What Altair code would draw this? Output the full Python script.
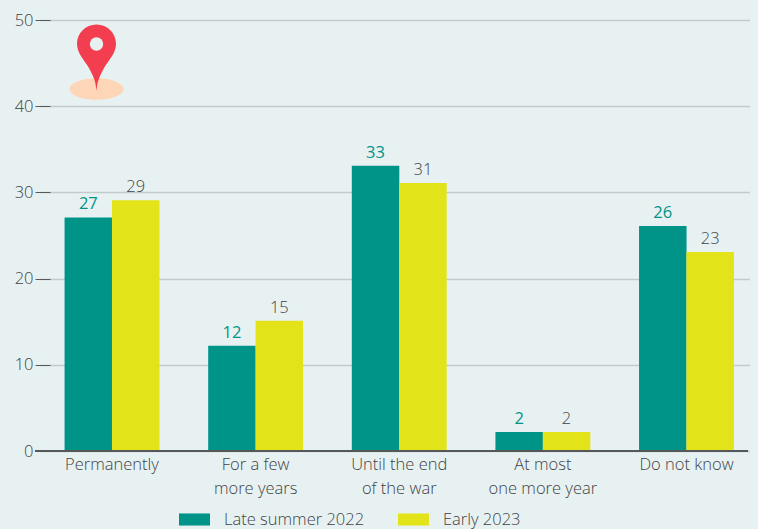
import altair as alt
import pandas as pd

categories = ["Permanently", "For a few|more years", "Until the end|of the war", "At most|one more year", "Do not know"]
series_names = ["Late summer 2022", "Early 2023"]
late_summer_2022 = [27.1, 12.2, 33.1, 2.2, 26.1]
early_2023 = [29.1, 15.1, 31.1, 2.2, 23.1]
late_labels = [27, 12, 33, 2, 26]
early_labels = [29, 15, 31, 2, 23]

BG = "#e8f1f2"
TEAL = "#009488"
YELLOW = "#e2e419"
TEXT = "#3e4344"
FONT = "Open Sans"
FS = 16.5

rows = []
for c, a, b, la, lb in zip(categories, late_summer_2022, early_2023, late_labels, early_labels):
    rows.append({"category": c, "series": series_names[0], "value": a, "label": la})
    rows.append({"category": c, "series": series_names[1], "value": b, "label": lb})
df = pd.DataFrame(rows)

x = alt.X(
    "category:N",
    sort=categories,
    title=None,
    scale=alt.Scale(domain=categories, range=[-9.8, 708.3], paddingInner=0.34, paddingOuter=0.17),
    axis=alt.Axis(
        labelExpr="split(datum.label, '|')",
        labelAngle=0,
        labelAlign="center",
        labelBaseline="top",
        labelFont=FONT,
        labelFontSize=FS,
        labelFontWeight=300,
        labelColor=TEXT,
        labelLineHeight=24,
        labelPadding=5,
        labelLimit=200,
        ticks=False,
        domain=False,
        grid=False,
    ),
)
x_offset = alt.XOffset("series:N", sort=series_names, scale=alt.Scale(domain=series_names))
y = alt.Y(
    "value:Q",
    title=None,
    scale=alt.Scale(domain=[0, 50]),
    axis=alt.Axis(
        values=[0, 10, 20, 30, 40, 50],
        labelFont=FONT,
        labelFontSize=FS,
        labelFontWeight=300,
        labelColor=TEXT,
        labelPadding=2,
        tickSize=15,
        tickColor="#55595a",
        tickWidth=1,
        domain=False,
        grid=True,
        gridColor="#c3cacb",
        gridWidth=1.5,
    ),
)

bars = alt.Chart(df).mark_bar(size=47.5).encode(
    x=x,
    xOffset=x_offset,
    y=y,
    color=alt.Color(
        "series:N",
        sort=series_names,
        scale=alt.Scale(domain=series_names, range=[TEAL, YELLOW]),
        legend=alt.Legend(
            title=None,
            orient="none",
            legendX=129,
            legendY=484,
            direction="horizontal",
            columns=2,
            columnPadding=33,
            symbolType="M-1,-0.39H1V0.39H-1Z",
            symbolSize=961,
            symbolStrokeWidth=0,
            labelFont=FONT,
            labelFontSize=FS,
            labelFontWeight=300,
            labelColor=TEXT,
            labelOffset=14,
            labelLimit=200,
        ),
    ),
)

def value_labels(name, colour, weight):
    return (
        alt.Chart(df)
        .transform_filter(alt.datum.series == name)
        .mark_text(baseline="bottom", dy=-5, font=FONT, fontSize=FS, fontWeight=weight, color=colour)
        .encode(x=x, xOffset=x_offset, y=y, text=alt.Text("label:Q"))
    )

baseline = alt.Chart(df).mark_rule(color="#55595a", strokeWidth=1.3).encode(
    x=alt.value(-15), x2=alt.value(698), y=alt.value(431)
)

pin_data = pd.DataFrame({"pin": ["marker"]})
ground = alt.Chart(pin_data).mark_point(
    shape="M-1,0A1,0.4 0 1,1 1,0A1,0.4 0 1,1 -1,0Z", filled=True, fill="#fdd6b8", opacity=1, size=2916, strokeWidth=0
).encode(x=alt.value(46.5), y=alt.value(69))
pin = alt.Chart(pin_data).mark_point(
    shape="M0,47C-1,36 -3,33 -7,25C-11,17 -19.5,10 -19.5,0C-19.5,-11 -11,-19.5 0,-19.5C11,-19.5 19.5,-11 19.5,0C19.5,10 11,17 7,25C3,33 1,36 0,47Z",
    filled=True, fill="#f23e4f", opacity=1, size=4, strokeWidth=0,
).encode(x=alt.value(46.5), y=alt.value(24))
hole = alt.Chart(pin_data).mark_point(
    shape="circle", filled=True, fill=BG, opacity=1, size=180, strokeWidth=0
).encode(x=alt.value(46.5), y=alt.value(24))

chart = (
    alt.layer(
        bars,
        value_labels(series_names[0], TEAL, 500),
        value_labels(series_names[1], TEXT, 300),
        baseline, ground, pin, hole,
    )
    .properties(
        width=698,
        height=431,
        background=BG,
        autosize=alt.AutoSizeParams(type="none"),
        padding={"left": 42, "top": 12, "right": 2, "bottom": 78},
    )
    .configure_view(stroke=None)
)

chart.save(
    "out.html",
    embed_options={
        "renderer": "svg",
        "actions": False,
        "defaultStyle": "html,body{background:#e8f1f2;overflow:hidden}",
    },
)
